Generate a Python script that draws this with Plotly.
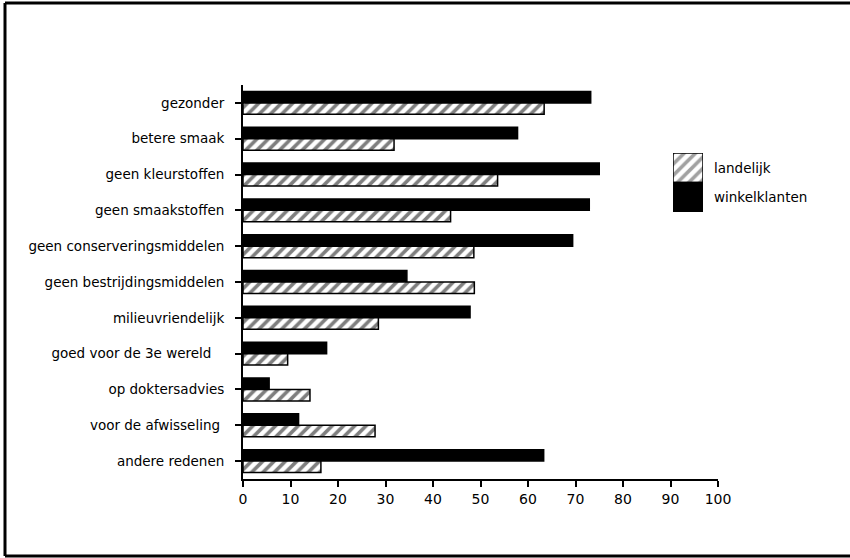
import plotly.graph_objects as go

categories = [
    "gezonder",
    "betere smaak",
    "geen kleurstoffen",
    "geen smaakstoffen",
    "geen conserveringsmiddelen",
    "geen bestrijdingsmiddelen",
    "milieuvriendelijk",
    "goed voor de 3e wereld\u00a0\u00a0\u00a0",
    "op doktersadvies",
    "voor de afwisseling\u00a0",
    "andere redenen",
]
landelijk = [63.4, 31.8, 53.6, 43.7, 48.6, 48.7, 28.5, 9.4, 14.1, 27.8, 16.4]
winkelklanten = [73.2, 57.8, 75.0, 72.9, 69.4, 34.5, 47.8, 17.6, 5.5, 11.7, 63.3]
x_ticks = [0, 10, 20, 30, 40, 50, 60, 70, 80, 90, 100]
legend_names = ["landelijk", "winkelklanten"]

W, H = 850, 558
L, R, T, B = 243, 132, 85, 79
PW, PH = W - L - R, H - T - B


def px(x):
    return (x - L) / PW


def py(y):
    return (H - B - y) / PH


FONT = "DejaVu Sans"
HATCH = dict(shape="/", fgcolor="black", bgcolor="white", size=8, solidity=0.45)

fig = go.Figure()
# winkelklanten first -> drawn on top within each group (reversed axis)
fig.add_trace(go.Bar(
    y=categories, x=winkelklanten, orientation="h", name="winkelklanten",
    marker=dict(color="black", line=dict(color="black", width=1.5)),
    showlegend=False,
))
fig.add_trace(go.Bar(
    y=categories, x=landelijk, orientation="h", name="landelijk",
    marker=dict(color="white", line=dict(color="black", width=1.5), pattern=HATCH),
    showlegend=False,
))

# legend swatches on an auxiliary axis (y=0 top: landelijk, y=1 bottom: winkelklanten)
fig.add_trace(go.Bar(
    x=[1, 1], y=[0, 1], orientation="h", width=1, xaxis="x2", yaxis="y2",
    marker=dict(color=["white", "black"], line=dict(color="black", width=1.5),
                pattern=dict(shape=["/", ""], fgcolor="black", bgcolor="white", size=8, solidity=0.45)),
    showlegend=False, hoverinfo="skip",
))

fig.update_layout(
    width=W, height=H,
    margin=dict(l=L, r=R, t=T, b=B, pad=0),
    paper_bgcolor="white", plot_bgcolor="white",
    barmode="group", bargap=0.36, bargroupgap=0,
    font=dict(family=FONT, size=13, color="black"),
    xaxis=dict(range=[0, 100], tickvals=x_ticks, showgrid=False, zeroline=False,
               showline=True, linecolor="black", linewidth=2,
               ticks="outside", ticklen=6, tickwidth=1.5, tickcolor="black",
               tickfont=dict(size=14), fixedrange=True),
    yaxis=dict(autorange="reversed", showgrid=False, zeroline=False,
               showline=True, linecolor="black", linewidth=2,
               ticks="outside", ticklen=6, tickwidth=1.5, tickcolor="black",
               ticklabelstandoff=8, tickfont=dict(size=13.5), fixedrange=True),
    xaxis2=dict(domain=[px(673), px(703)], range=[0, 1], visible=False, anchor="y2", fixedrange=True),
    yaxis2=dict(domain=[py(212), py(153)], range=[1.5, -0.5], visible=False, anchor="x2", fixedrange=True),
    showlegend=False,
)

for i, name in enumerate(legend_names):
    fig.add_annotation(x=1, y=i, xref="x2", yref="y2", text=name, showarrow=False,
                       xanchor="left", xshift=9, font=dict(size=13.5))

# outer frame
frame = dict(type="line", xref="paper", yref="paper", line=dict(color="black", width=3))
fig.add_shape(**frame, x0=px(5), x1=px(5), y0=py(3), y1=py(556))
fig.add_shape(**frame, x0=px(5), x1=px(850), y0=py(3), y1=py(3))
fig.add_shape(**frame, x0=px(5), x1=px(850), y0=py(556), y1=py(556))

fig.write_html("out.html", config=dict(displayModeBar=False),
               post_script="document.body.style.margin='0';document.body.style.padding='0';")
